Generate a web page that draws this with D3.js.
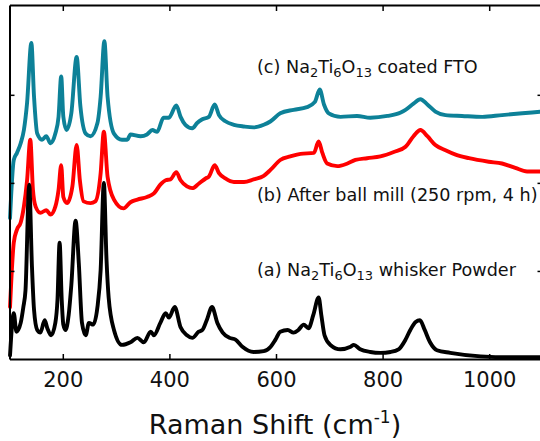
<!DOCTYPE html>
<html>
<head>
<meta charset="utf-8">
<script src="https://cdn.jsdelivr.net/npm/d3@7"></script>
<style>
  body { margin: 0; background: #fff; }
  svg { display: block; font-family: "DejaVu Sans", Verdana, sans-serif; }
</style>
</head>
<body>
<svg id="chart" width="540" height="441"></svg>
<script>
// Raman shift (cm-1) and intensity (a.u., offset per trace)
// (a) Na2Ti6O13 whisker powder
const shiftA = [101,108,113,121,126,130,137,142,146,152,158,166,171,178,186,190,194,198,201,205,211,216,224,230,236,243,249,257,265,271,277,282,286,296,311,327,340,352,365,371,383,393,399,410,421,433,443,455,462,470,480,490,500,513,524,537,558,577,590,599,608,622,633,642,652,661,670,680,685,691,702,721,740,746,758,777,796,815,830,843,852,862,870,879,889,902,927,984,1040,1100];
const intensityA = [4,52,31,41,59,78,198,107,56,33,30,44,35,27,41,67,132,67,39,33,50,84,157,109,41,27,41,39,59,101,200,113,70,33,16,19,24,19,31,27,41,52,47,59,36,27,24,31,33,44,59,41,30,24,22,14,8,9,14,22,31,33,30,33,39,35,50,70,50,27,16,11,14,16,11,8,7,8,11,22,33,42,44,33,19,10,7,3,2,2];

// (b) after ball mill (250 rpm, 4 h)
const shiftB = [101,108,114,121,127,133,139,144,149,158,169,177,186,192,197,201,208,218,226,232,239,252,261,271,277,284,296,314,327,340,358,371,383,393,402,413,421,433,443,455,468,474,485,493,505,521,540,558,577,590,608,627,646,671,680,687,696,715,734,749,771,796,821,843,858,871,884,899,918,937,962,999,1024,1049,1071,1100];
const intensityB = [59,132,147,155,173,203,249,192,173,166,169,164,173,192,220,184,177,196,243,203,179,177,179,211,258,207,181,171,178,181,184,188,198,203,204,212,203,196,194,199,205,207,220,211,205,201,201,204,208,215,226,230,233,234,247,234,222,219,222,226,228,230,235,241,253,260,253,243,237,232,228,224,222,217,213,213];

// (c) Na2Ti6O13 coated FTO
const shiftC = [101,108,114,121,127,133,141,146,152,161,169,177,186,192,197,201,207,216,226,233,243,252,265,271,278,284,296,311,321,327,346,358,368,377,389,399,413,421,430,443,452,461,474,485,493,505,521,540,558,577,590,608,633,658,673,682,690,699,721,752,777,809,834,843,858,871,884,899,918,949,987,1024,1062,1100];
const intensityC = [160,226,234,245,260,291,359,298,256,249,253,245,256,275,321,275,260,279,343,287,256,253,268,298,361,298,256,249,249,255,253,255,260,258,274,274,288,275,266,262,268,272,275,289,277,270,266,264,263,266,270,279,283,286,292,306,289,279,275,276,274,276,280,283,290,295,289,281,277,276,275,277,279,281];

const xTicks = [200, 400, 600, 800, 1000];
const yTicks = [100, 200, 300];

const traces = [
  { name: "c", shift: shiftC, intensity: intensityC, color: "#0d8198" },
  { name: "b", shift: shiftB, intensity: intensityB, color: "#ff0000" },
  { name: "a", shift: shiftA, intensity: intensityA, color: "#000000" }
];

const svg = d3.select("#chart");

const x = d3.scaleLinear().domain([100, 1100]).range([9.5, 542.5]);
const y = d3.scaleLinear().domain([0, 402]).range([359, 5]);

const line = d3.line()
  .x(d => x(d[0]))
  .y(d => y(d[1]))
  .curve(d3.curveMonotoneX);

const plot = svg.append("g");
traces.forEach(t => {
  plot.append("path")
    .datum(d3.zip(t.shift, t.intensity))
    .attr("fill", "none")
    .attr("stroke", t.color)
    .attr("stroke-width", 3.9)
    .attr("stroke-linejoin", "round")
    .attr("stroke-linecap", "round")
    .attr("d", line);
});

// frame: ticks point inward on all four sides
function styleAxis(g) {
  g.selectAll(".domain").attr("stroke", "#000").attr("stroke-width", 2);
  g.selectAll(".tick line").attr("stroke", "#000").attr("stroke-width", 1.5);
}

const axisB = svg.append("g")
  .attr("transform", `translate(0,${y(0)})`)
  .call(d3.axisBottom(x).tickValues(xTicks).tickFormat(d3.format("d"))
    .tickSizeInner(-5).tickSizeOuter(0).tickPadding(13));
styleAxis(axisB);
axisB.selectAll(".tick text")
  .attr("font-size", 21)
  .attr("font-family", "\"DejaVu Sans\", Verdana, sans-serif")
  .attr("fill", "#111");

const axisT = svg.append("g")
  .attr("transform", `translate(0,${y(402)})`)
  .call(d3.axisTop(x).tickValues(xTicks).tickSizeInner(-6).tickSizeOuter(0).tickFormat(""));
styleAxis(axisT);

const axisL = svg.append("g")
  .attr("transform", `translate(${x(100)},0)`)
  .call(d3.axisLeft(y).tickValues(yTicks).tickSizeInner(-5).tickSizeOuter(0).tickFormat(""));
styleAxis(axisL);

const axisR = svg.append("g")
  .attr("transform", `translate(${x(1100)},0)`)
  .call(d3.axisRight(y).tickValues(yTicks).tickSizeInner(-5).tickSizeOuter(0).tickFormat(""));
styleAxis(axisR);

// axis title with superscript
const title = svg.append("text")
  .attr("x", 275)
  .attr("y", 434)
  .attr("text-anchor", "middle")
  .attr("font-size", 27)
  .attr("fill", "#111");
title.append("tspan").text("Raman Shift (cm");
title.append("tspan").attr("font-size", 17).attr("dy", -11).text("-1");
title.append("tspan").attr("dy", 11).text(")");

// trace labels with chemical subscripts
function label(parts, px, py) {
  const t = svg.append("text")
    .attr("x", px).attr("y", py)
    .attr("font-size", 17.6)
    .attr("fill", "#111");
  let shift = 0;
  parts.forEach(p => {
    const sub = p.startsWith("_");
    const dy = (sub ? 4 : 0) - shift;
    shift = sub ? 4 : 0;
    t.append("tspan")
      .attr("dy", dy)
      .attr("font-size", sub ? 13 : 17.6)
      .text(sub ? p.slice(1) : p);
  });
}
label(["(c) Na", "_2", "Ti", "_6", "O", "_13", " coated FTO"], 257, 73);
label(["(b) After ball mill (250 rpm, 4 h)"], 257, 201);
label(["(a) Na", "_2", "Ti", "_6", "O", "_13", " whisker Powder"], 257, 276);
</script>
</body>
</html>
